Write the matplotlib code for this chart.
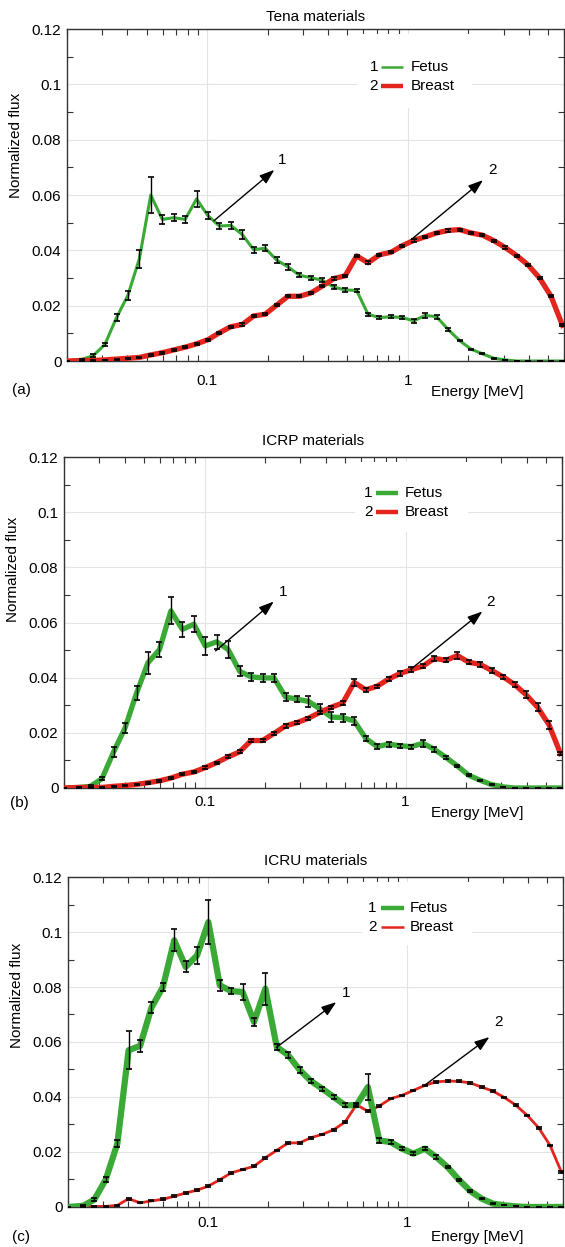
import matplotlib
matplotlib.use('Agg')
import matplotlib.pyplot as plt
from matplotlib.patches import Rectangle
from matplotlib.ticker import FixedLocator, LogLocator, NullFormatter

plt.rcParams['font.family'] = ['Liberation Sans', 'DejaVu Sans']
plt.rcParams['font.size'] = 11

GREEN = '#3aa935'
RED = '#e3261d'

# Energy bins [MeV] (log spaced)
energy = [0.02, 0.0238, 0.0271, 0.0309, 0.0353, 0.0402, 0.0459, 0.0523, 0.0597, 0.0680,
          0.0776, 0.0885, 0.1008, 0.1150, 0.1311, 0.1495, 0.1705, 0.1944, 0.2217, 0.2528,
          0.2882, 0.3287, 0.3748, 0.4274, 0.4870, 0.5554, 0.6333, 0.7221, 0.8234, 0.9387,
          1.070, 1.220, 1.391, 1.587, 1.809, 2.063, 2.352, 2.682, 3.058, 3.487,
          3.977, 4.534, 5.170, 5.895]

# (a) Tena materials
fetus_a = [0, .0006, .002, .006, .0157, .0237, .037, .060, .0512, .0518, .0512,
           .0586, .0525, .0488, .049, .0457, .0402, .0408, .0365, .034, .031, .0301,
           .0292, .0267, .0257, .0255, .0169, .0157, .016, .0157, .0145, .0165, .016,
           .0114, .0074, .0043, .0026, .001, .0004, 0, 0, 0, 0, 0]
fetus_err_a = [0, .0002, .0004, .0006, .0012, .0015, .0032, .0065, .0015, .0012, .0012,
               .0028, .0012, .001, .0012, .0015, .001, .0012, .001, .001, .0008, .0008,
               .0008, .0008, .0006, .0006, .0006, .0006, .0006, .0006, .0006, .0008, .0008,
               .0004, .0003, .0002, .0002, .0001, 0, 0, 0, 0, 0, 0]
breast_a = [0, .0002, .0002, .0004, .0007, .001, .0013, .0022, .003, .004, .005,
            .0062, .0077, .0102, .0124, .0132, .0163, .0169, .0202, .0234, .0234, .0246,
            .0271, .0298, .0308, .038, .0355, .0384, .0393, .0417, .0436, .0449, .0463,
            .0472, .0475, .0463, .0455, .0435, .041, .0381, .0347, .030, .0234, .0129]
breast_err_a = [0, .0001, .0001, .0001, .0002, .0002, .0002, .0003, .0003, .0003, .0003,
                .0003, .0003, .0004, .0004, .0004, .0004, .0004, .0004, .0004, .0004, .0004,
                .0004, .0004, .0004, .0005, .0005, .0004, .0004, .0004, .0004, .0004, .0004,
                .0004, .0004, .0004, .0004, .0004, .0004, .0004, .0004, .0004, .0004, .0004]

# (b) ICRP materials
fetus_b = [0, .0002, .0006, .0034, .0131, .0217, .0344, .0454, .0502, .0642, .0575,
           .0594, .0515, .053, .0502, .0423, .0403, .0399, .0399, .033, .0322, .0314,
           .0287, .0257, .0255, .0243, .018, .015, .0159, .0153, .015, .0162, .014,
           .0111, .008, .0046, .0028, .0012, .0004, 0, 0, 0, 0, 0]
fetus_err_b = [0, .0001, .0003, .0006, .0018, .0018, .0025, .004, .0027, .0049, .0027,
               .003, .0033, .0026, .003, .0018, .0015, .0015, .0015, .0014, .0012, .002,
               .0018, .0018, .0014, .0015, .001, .0008, .0009, .0008, .0007, .0012, .001,
               .0006, .0004, .0003, .0002, .0002, .0001, 0, 0, 0, 0, 0]
breast_b = [0, .0002, .0002, .0002, .0006, .0009, .0013, .0019, .0026, .0036, .005,
            .0058, .0074, .0092, .0113, .0131, .0172, .0172, .0198, .0225, .0237, .0253,
            .0274, .0293, .0308, .0383, .0356, .0369, .0395, .0415, .0429, .0442, .047,
            .0463, .048, .0456, .0448, .0426, .0403, .0375, .0338, .0293, .0229, .0125]
breast_err_b = [0, .0001, .0001, .0001, .0002, .0002, .0003, .0003, .0003, .0004, .0004,
                .0004, .0004, .0004, .0005, .0005, .0005, .0005, .0005, .0006, .0006, .0006,
                .0006, .0006, .0006, .0012, .0008, .0006, .0008, .0008, .0008, .0008, .001,
                .0008, .0012, .0008, .0008, .0008, .0008, .0008, .0012, .0015, .0015, .0006]

# (c) ICRU materials
fetus_c = [0, .0004, .0027, .01, .023, .057, .0586, .0725, .08, .097, .0873,
           .0915, .1036, .0806, .0785, .0782, .0673, .0794, .0582, .0552, .0499, .0458,
           .043, .04, .037, .037, .0436, .0242, .0236, .0212, .0194, .0212, .0182,
           .0145, .0099, .0058, .003, .0012, .0006, .0002, 0, 0, 0, 0]
fetus_err_c = [0, .0002, .0004, .0008, .0012, .007, .0022, .002, .0015, .004, .002,
               .003, .008, .002, .001, .003, .0015, .0058, .001, .001, .001, .0008,
               .0008, .0008, .0008, .0008, .0048, .0008, .0008, .0006, .0006, .0006, .0006,
               .0005, .0004, .0003, .0002, .0001, 0, 0, 0, 0, 0, 0]
breast_c = [0, .0002, .0002, .0002, .0006, .003, .0015, .0022, .0028, .0039, .0051,
            .0061, .0076, .0099, .0124, .0136, .0148, .0179, .0206, .0233, .0233, .0252,
            .0264, .0281, .0309, .0372, .0348, .0367, .0394, .0406, .0424, .0442, .0455,
            .0458, .0457, .0451, .0436, .0421, .0398, .037, .0333, .0288, .0224, .0127]
breast_err_c = [0, .0001, .0001, .0001, .0002, .0004, .0002, .0002, .0003, .0003, .0003,
                .0003, .0003, .0003, .0003, .0003, .0003, .0003, .0003, .0003, .0003, .0003,
                .0003, .0003, .0003, .0003, .0003, .0003, .0003, .0003, .0003, .0003, .0003,
                .0003, .0003, .0003, .0003, .0003, .0003, .0003, .0003, .0003, .0003, .0003]

ytick_values = [0, 0.02, 0.04, 0.06, 0.08, 0.1, 0.12]
ytick_labels = ['0', '0.02', '0.04', '0.06', '0.08', '0.1', '0.12']
yminor_values = [0.01, 0.03, 0.05, 0.07, 0.09, 0.11]
xtick_values = [0.1, 1]
xtick_labels = ['0.1', '1']
legend_labels = ['Fetus', 'Breast']

panels = [
    dict(rect=[0.1186, 0.7105, 0.8796, 0.2662], title='Tena materials', title_pad=6,
         tag='(a)', tag_pos=(-0.092, -0.087), xlab_pos=(0.825, -0.0925), ylab_y=0.65,
         xpad=9, fetus=fetus_a, fetus_err=fetus_err_a, breast=breast_a, breast_err=breast_err_a,
         lw=(2.2, 3.8), leg_lw=(1.8, 3.2), green_top=False,
         arrows=[((0.108, 0.0507), (0.216, 0.0691), (0.237, 0.0725), '1'),
                 ((1.04, 0.0439), (2.37, 0.0654), (2.63, 0.069), '2')],
         leg_x=(0.626, 0.632, 0.676, 0.692), leg_rows=(0.886, 0.828),
         box=(0.585, 0.762, 0.230, 0.223)),
    dict(rect=[0.1133, 0.3681, 0.8814, 0.2654], title='ICRP materials', title_pad=9,
         tag='(b)', tag_pos=(-0.09, -0.045), xlab_pos=(0.829, -0.0755), ylab_y=0.66,
         xpad=5, fetus=fetus_b, fetus_err=fetus_err_b, breast=breast_b, breast_err=breast_err_b,
         lw=(3.8, 3.8), leg_lw=(3.2, 3.2), green_top=False,
         arrows=[((0.1135, 0.0497), (0.221, 0.0676), (0.246, 0.071), '1'),
                 ((1.06, 0.043), (2.41, 0.064), (2.65, 0.0676), '2')],
         leg_x=(0.62, 0.626, 0.67, 0.684), leg_rows=(0.891, 0.834),
         box=(0.584, 0.773, 0.227, 0.212)),
    dict(rect=[0.1204, 0.0321, 0.876, 0.2646], title='ICRU materials', title_pad=9,
         tag='(c)', tag_pos=(-0.095, -0.09), xlab_pos=(0.826, -0.09), ylab_y=0.64,
         xpad=6.5, fetus=fetus_c, fetus_err=fetus_err_c, breast=breast_c, breast_err=breast_err_c,
         lw=(4.5, 2.0), leg_lw=(3.2, 1.8), green_top=True,
         arrows=[((0.2206, 0.058), (0.44, 0.0745), (0.494, 0.0778), '1'),
                 ((1.216, 0.0442), (2.57, 0.0618), (2.86, 0.0673), '2')],
         leg_x=(0.624, 0.632, 0.678, 0.69), leg_rows=(0.906, 0.848),
         box=(0.594, 0.794, 0.222, 0.191)),
]

fig = plt.figure(figsize=(5.65, 12.47), dpi=100, facecolor='white')

for p in panels:
    ax = fig.add_axes(p['rect'])
    ax.set_xscale('log')

    # Curves: the one drawn last sits on top at the crossing
    zf, zb = (3, 2) if p['green_top'] else (2, 3)
    ax.plot(energy, p['fetus'], color=GREEN, lw=p['lw'][0], zorder=zf)
    ax.plot(energy, p['breast'], color=RED, lw=p['lw'][1], zorder=zb)
    ax.errorbar(energy, p['fetus'], yerr=p['fetus_err'], fmt='none', ecolor='black',
                elinewidth=1.0, capsize=2.5, capthick=1.2, zorder=4)
    ax.errorbar(energy, p['breast'], yerr=p['breast_err'], fmt='none', ecolor='black',
                elinewidth=1.0, capsize=2.5, capthick=1.2, zorder=4)

    # Arrows pointing at the curves
    for start, tip, lab, txt in p['arrows']:
        ax.annotate('', xy=tip, xytext=start,
                    arrowprops=dict(arrowstyle='-|>,head_length=0.9,head_width=0.32',
                                    color='black', lw=1.0, shrinkA=0, shrinkB=0,
                                    mutation_scale=10), zorder=5)
        ax.text(lab[0], lab[1], txt, ha='center', va='center', fontsize=11, zorder=5)

    # Legend drawn by hand: number, line sample, name
    bx, by, bw, bh = p['box']
    ax.add_patch(Rectangle((bx, by), bw, bh, transform=ax.transAxes,
                           facecolor='white', edgecolor='none', zorder=1))
    nx, l0, l1, tx = p['leg_x']
    for i, (num, name, col) in enumerate(zip(['1', '2'], legend_labels, [GREEN, RED])):
        yy = p['leg_rows'][i]
        ax.text(nx, yy, num, transform=ax.transAxes, ha='right', va='center', zorder=6)
        ax.plot([l0, l1], [yy, yy], transform=ax.transAxes, color=col,
                lw=p['leg_lw'][i], solid_capstyle='butt', zorder=6)
        ax.text(tx, yy, name, transform=ax.transAxes, ha='left', va='center', zorder=6)

    ax.set_xlim(0.02, 6)
    ax.set_ylim(0, 0.12)

    ax.yaxis.set_major_locator(FixedLocator(ytick_values))
    ax.set_yticklabels(ytick_labels)
    ax.yaxis.set_minor_locator(FixedLocator(yminor_values))
    ax.xaxis.set_major_locator(FixedLocator(xtick_values))
    ax.set_xticklabels(xtick_labels)
    ax.xaxis.set_minor_locator(LogLocator(base=10, subs=(2, 3, 4, 5, 6, 7, 8, 9)))
    ax.xaxis.set_minor_formatter(NullFormatter())

    ax.tick_params(which='both', direction='in', top=True, right=True, labelsize=11)
    ax.tick_params(which='major', length=0)
    ax.tick_params(which='minor', length=4, width=0.8, color='#333333')
    ax.tick_params(axis='x', which='major', pad=p['xpad'])
    ax.tick_params(axis='y', which='major', pad=4)

    ax.grid(True, which='major', color='#e4e4e4', lw=0.8)
    ax.set_axisbelow(True)
    for s in ax.spines.values():
        s.set_color('#333333')
        s.set_linewidth(1.0)

    ax.set_title(p['title'], fontsize=11, pad=p['title_pad'])
    ax.set_ylabel('Normalized flux', fontsize=11)
    ax.yaxis.set_label_coords(-0.088, p['ylab_y'])
    ax.text(p['xlab_pos'][0], p['xlab_pos'][1], 'Energy [MeV]', transform=ax.transAxes,
            ha='center', va='center', fontsize=11)
    ax.text(p['tag_pos'][0], p['tag_pos'][1], p['tag'], transform=ax.transAxes,
            ha='center', va='center', fontsize=11)

fig.savefig('out.png', dpi=100, facecolor='white')
